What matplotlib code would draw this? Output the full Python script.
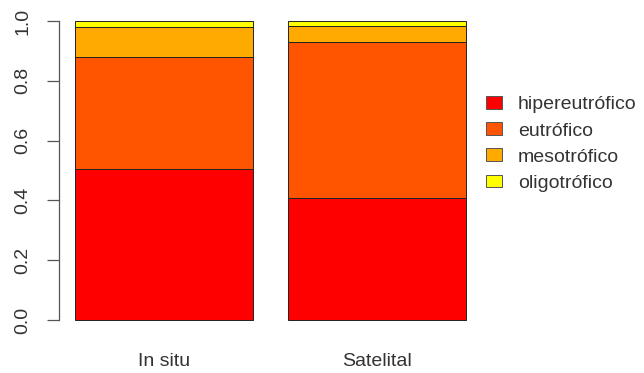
import matplotlib
matplotlib.use("Agg")
import matplotlib.pyplot as plt
from matplotlib.patches import Patch
import numpy as np

plt.rcParams['font.family'] = ['Liberation Sans', 'DejaVu Sans']

groups = ["In situ", "Satelital"]
categories = ["hipereutrófico", "eutrófico", "mesotrófico", "oligotrófico"]
hipereutrofico = [0.506, 0.409]
eutrofico = [0.375, 0.520]
mesotrofico = [0.100, 0.053]
oligotrofico = [0.019, 0.018]
colors = ["#FF0000", "#FF5500", "#FFAA00", "#FFFF00"]
yticks = [0.0, 0.2, 0.4, 0.6, 0.8, 1.0]
ytick_labels = ["0.0", "0.2", "0.4", "0.6", "0.8", "1.0"]

W, H = 644, 373
fig = plt.figure(figsize=(W / 100, H / 100), dpi=100)
# axes in pixel coordinates
left_px, right_px, top_px, bottom_px = 59, 482, 9, 332
ax = fig.add_axes([left_px / W, (H - bottom_px) / H,
                   (right_px - left_px) / W, (bottom_px - top_px) / H])

x = np.array([0.7, 1.9])
series = [hipereutrofico, eutrofico, mesotrofico, oligotrofico]
bottom = np.zeros(len(groups))
for vals, col, lab in zip(series, colors, categories):
    ax.bar(x, vals, width=1.0, bottom=bottom, color=col, edgecolor="#222222",
           linewidth=0.7, label=lab)
    bottom += np.array(vals)

ax.set_xlim(0.112, 2.488)
ax.set_ylim(-0.04, 1.04)
for s in ["top", "right", "bottom"]:
    ax.spines[s].set_visible(False)
ax.spines["left"].set_bounds(0, 1)
ax.spines["left"].set_color("#555555")
ax.spines["left"].set_linewidth(0.9)

ax.set_yticks(yticks)
ax.set_yticklabels(ytick_labels, rotation=90, va="center", fontsize=14, color="#333333")
ax.tick_params(axis="y", length=9, width=0.9, color="#555555", pad=11)
ax.set_xticks(x)
ax.set_xticklabels(groups, fontsize=14, color="#333333")
ax.tick_params(axis="x", length=0, pad=15)

handles = [Patch(facecolor=c, edgecolor="#555555", linewidth=0.7) for c in colors]
fig.legend(handles, categories, loc="center left",
           bbox_to_anchor=(472 / W, 1 - 144 / H), frameon=False, fontsize=14,
           handlelength=0.83, handleheight=0.62, handletextpad=0.82,
           labelspacing=0.46, borderpad=0.2, labelcolor="#333333")

fig.savefig("out.png", dpi=100)
